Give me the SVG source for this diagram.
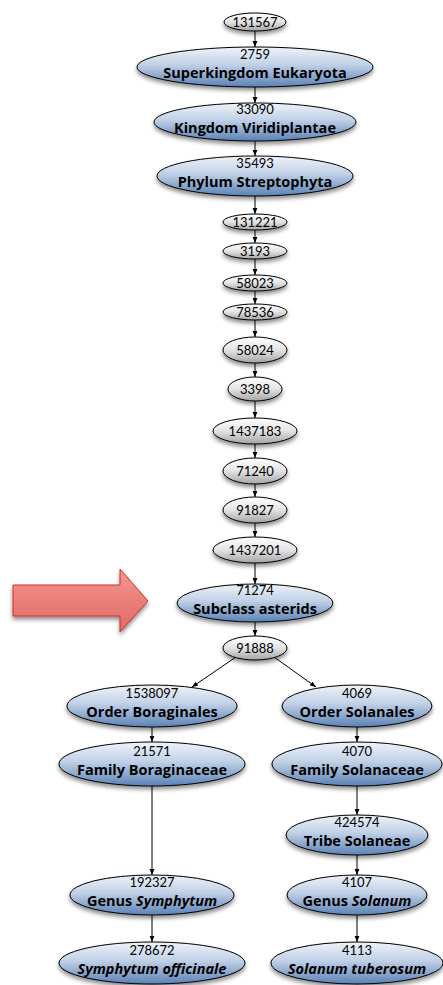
<svg xmlns="http://www.w3.org/2000/svg" width="443" height="985" viewBox="0 0 443 985">
<defs>
<linearGradient id="gb" x1="0" y1="0" x2="0" y2="1">
<stop offset="0" stop-color="#eef3f9"/>
<stop offset="0.45" stop-color="#c0d0e6"/>
<stop offset="1" stop-color="#5a82b6"/>
</linearGradient>
<linearGradient id="gg" x1="0" y1="0" x2="0" y2="1">
<stop offset="0" stop-color="#ffffff"/>
<stop offset="0.5" stop-color="#e3e3e3"/>
<stop offset="1" stop-color="#a4a4a4"/>
</linearGradient>
<linearGradient id="gr" x1="0" y1="0" x2="0" y2="1">
<stop offset="0" stop-color="#f59690"/>
<stop offset="1" stop-color="#e06864"/>
</linearGradient>
<filter id="sh" x="-20%" y="-40%" width="140%" height="200%">
<feDropShadow dx="0" dy="3" stdDeviation="2.2" flood-color="#000" flood-opacity="0.45"/>
</filter>
<marker id="ah" viewBox="0 0 10 10" refX="10" refY="5" markerWidth="6" markerHeight="6" markerUnits="userSpaceOnUse" orient="auto">
<path d="M0,1 L10,5 L0,9 z" fill="#000"/>
</marker>
<style>
.b{fill:url(#gb);stroke:#000;stroke-width:1;filter:url(#sh)}
.g{fill:url(#gg);stroke:#000;stroke-width:1;filter:url(#sh)}
.n{font-family:Lato,"Open Sans",sans-serif;font-size:13px;fill:#000;text-anchor:middle}
.t{font-family:"Open Sans",Lato,sans-serif;font-size:14.5px;font-weight:bold;fill:#000;text-anchor:middle}
.e{stroke:#000;stroke-width:1;fill:none;marker-end:url(#ah)}
</style>
</defs>
<g id="arrow">
<path d="M13,585 L120,585 L120,569 L148,601 L120,632 L120,616 L13,616 Z" fill="url(#gr)" stroke="#c8352c" stroke-width="1" filter="url(#sh)"/>
</g>
<g id="edges">
<line class="e" x1="255" y1="31" x2="255" y2="47"/>
<line class="e" x1="255" y1="87" x2="255" y2="103"/>
<line class="e" x1="255" y1="141" x2="255" y2="156"/>
<line class="e" x1="255" y1="196" x2="255" y2="214"/>
<line class="e" x1="255" y1="230" x2="255" y2="243"/>
<line class="e" x1="255" y1="259" x2="255" y2="275"/>
<line class="e" x1="255" y1="291" x2="255" y2="304"/>
<line class="e" x1="255" y1="320" x2="255" y2="337"/>
<line class="e" x1="255" y1="363" x2="255" y2="377"/>
<line class="e" x1="255" y1="401" x2="255" y2="418"/>
<line class="e" x1="255" y1="444" x2="255" y2="458"/>
<line class="e" x1="255" y1="484" x2="255" y2="497"/>
<line class="e" x1="255" y1="523" x2="255" y2="537"/>
<line class="e" x1="255" y1="563" x2="255" y2="584"/>
<line class="e" x1="255" y1="622" x2="255" y2="636"/>
<line class="e" x1="236" y1="657" x2="192" y2="687"/>
<line class="e" x1="274" y1="657" x2="316" y2="687"/>
<line class="e" x1="152" y1="727" x2="152" y2="742"/>
<line class="e" x1="357" y1="727" x2="357" y2="742"/>
<line class="e" x1="152" y1="786" x2="152" y2="875"/>
<line class="e" x1="357" y1="786" x2="357" y2="815"/>
<line class="e" x1="357" y1="855" x2="357" y2="875"/>
<line class="e" x1="152" y1="915" x2="152" y2="942"/>
<line class="e" x1="357" y1="915" x2="357" y2="942"/>
</g>
<g id="n131567"><ellipse class="g" cx="255" cy="22" rx="31" ry="9"/><text class="n" x="255" y="26.5">131567</text></g>
<g id="n2759"><ellipse class="b" cx="255" cy="67" rx="118" ry="20"/><text class="n" x="255" y="59">2759</text><text class="t" x="255" y="78">Superkingdom Eukaryota</text></g>
<g id="n33090"><ellipse class="b" cx="255" cy="122" rx="101" ry="19"/><text class="n" x="255" y="114">33090</text><text class="t" x="255" y="133">Kingdom Viridiplantae</text></g>
<g id="n35493"><ellipse class="b" cx="255" cy="176" rx="98" ry="20"/><text class="n" x="255" y="168">35493</text><text class="t" x="255" y="187">Phylum Streptophyta</text></g>
<g id="n131221"><ellipse class="g" cx="255" cy="222" rx="32" ry="8"/><text class="n" x="255" y="226.5">131221</text></g>
<g id="n3193"><ellipse class="g" cx="255" cy="251" rx="32" ry="8"/><text class="n" x="255" y="255.5">3193</text></g>
<g id="n58023"><ellipse class="g" cx="255" cy="283" rx="32" ry="8"/><text class="n" x="255" y="287.5">58023</text></g>
<g id="n78536"><ellipse class="g" cx="255" cy="312" rx="32" ry="8"/><text class="n" x="255" y="316.5">78536</text></g>
<g id="n58024"><ellipse class="g" cx="255" cy="350" rx="32" ry="13"/><text class="n" x="255" y="354.5">58024</text></g>
<g id="n3398"><ellipse class="g" cx="255" cy="389" rx="27" ry="12"/><text class="n" x="255" y="393.5">3398</text></g>
<g id="n1437183"><ellipse class="g" cx="255" cy="431" rx="42" ry="13"/><text class="n" x="255" y="435.5">1437183</text></g>
<g id="n71240"><ellipse class="g" cx="255" cy="471" rx="32" ry="13"/><text class="n" x="255" y="475.5">71240</text></g>
<g id="n91827"><ellipse class="g" cx="255" cy="510" rx="32" ry="13"/><text class="n" x="255" y="514.5">91827</text></g>
<g id="n1437201"><ellipse class="g" cx="255" cy="550" rx="42" ry="13"/><text class="n" x="255" y="554.5">1437201</text></g>
<g id="n71274"><ellipse class="b" cx="255" cy="603" rx="78" ry="19"/><text class="n" x="255" y="595">71274</text><text class="t" x="255" y="614">Subclass asterids</text></g>
<g id="n91888"><ellipse class="g" cx="255" cy="648" rx="32" ry="12"/><text class="n" x="255" y="652.5">91888</text></g>
<g id="n1538097"><ellipse class="b" cx="152" cy="706" rx="85" ry="21"/><text class="n" x="152" y="698">1538097</text><text class="t" x="152" y="717">Order Boraginales</text></g>
<g id="n4069"><ellipse class="b" cx="357" cy="706" rx="75" ry="21"/><text class="n" x="357" y="698">4069</text><text class="t" x="357" y="717">Order Solanales</text></g>
<g id="n21571"><ellipse class="b" cx="152" cy="764" rx="93" ry="22"/><text class="n" x="152" y="756">21571</text><text class="t" x="152" y="775">Family Boraginaceae</text></g>
<g id="n4070"><ellipse class="b" cx="357" cy="764" rx="85" ry="22"/><text class="n" x="357" y="756">4070</text><text class="t" x="357" y="775">Family Solanaceae</text></g>
<g id="n424574"><ellipse class="b" cx="357" cy="835" rx="71" ry="20"/><text class="n" x="357" y="827">424574</text><text class="t" x="357" y="846">Tribe Solaneae</text></g>
<g id="n192327"><ellipse class="b" cx="152" cy="895" rx="82" ry="20"/><text class="n" x="152" y="887">192327</text><text class="t" x="152" y="906">Genus <tspan font-style="italic">Symphytum</tspan></text></g>
<g id="n4107"><ellipse class="b" cx="357" cy="895" rx="70" ry="20"/><text class="n" x="357" y="887">4107</text><text class="t" x="357" y="906">Genus <tspan font-style="italic">Solanum</tspan></text></g>
<g id="n278672"><ellipse class="b" cx="152" cy="963" rx="93" ry="21"/><text class="n" x="152" y="955">278672</text><text class="t" x="152" y="974" font-style="italic">Symphytum officinale</text></g>
<g id="n4113"><ellipse class="b" cx="357" cy="963" rx="86" ry="21"/><text class="n" x="357" y="955">4113</text><text class="t" x="357" y="974" font-style="italic">Solanum tuberosum</text></g>
</svg>
